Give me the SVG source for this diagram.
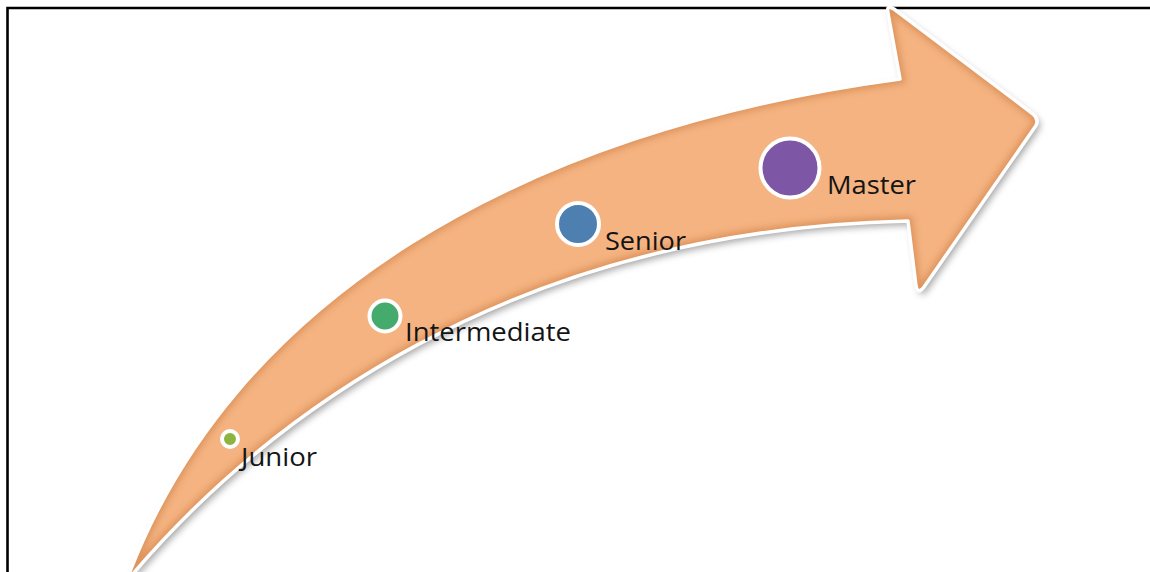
<svg xmlns="http://www.w3.org/2000/svg" width="1150" height="572" viewBox="0 0 1150 572">
  <style>
    .lbl { font-family: "Open Sans", "Liberation Sans", sans-serif; font-size: 25px; fill: #141414; }
    .ring { stroke: #ffffff; stroke-width: 4; }
    .frame { stroke: #000000; stroke-width: 2.6; fill: none; }
  </style>
  <defs>
    <path id="arrowShape" d="M126,582 C230,300 520,130 900,79 L888,13 Q886,4 894,9 L1033,114 Q1040,120 1035,127 L924,287 Q918,295 916,286 L908,221 C510,230 262,420 126,582 Z"/>
    <clipPath id="arrowClip"><use href="#arrowShape"/></clipPath>
    <filter id="shadow" x="-10%" y="-10%" width="120%" height="120%">
      <feDropShadow dx="3" dy="4" stdDeviation="3.5" flood-color="#000" flood-opacity="0.35"/>
    </filter>
    <filter id="soft" x="-10%" y="-10%" width="120%" height="120%">
      <feGaussianBlur stdDeviation="3"/>
    </filter>
  </defs>

  <rect width="1150" height="572" fill="#ffffff"/>
  <path class="frame" d="M7.5,572 L7.5,8 L1150,8"/>

  <g id="arrow">
    <use href="#arrowShape" fill="#F4B381" filter="url(#shadow)"/>
    <g clip-path="url(#arrowClip)">
      <use href="#arrowShape" fill="none" stroke="#D98D55" stroke-width="10" filter="url(#soft)" opacity="0.8"/>
    </g>
    <use href="#arrowShape" fill="none" stroke="#ffffff" stroke-width="3.5" stroke-linejoin="round"/>
  </g>

  <g id="junior">
    <circle class="ring" cx="230" cy="439" r="8" fill="#8DB440"/>
    <text class="lbl" x="241" y="466" textLength="76" lengthAdjust="spacingAndGlyphs">Junior</text>
  </g>

  <g id="intermediate">
    <circle class="ring" cx="385" cy="316" r="15.5" fill="#44AB6C"/>
    <text class="lbl" x="405" y="341" textLength="166" lengthAdjust="spacingAndGlyphs">Intermediate</text>
  </g>

  <g id="senior">
    <circle class="ring" cx="578" cy="224" r="21" fill="#4D80B0"/>
    <text class="lbl" x="605" y="250" textLength="81" lengthAdjust="spacingAndGlyphs">Senior</text>
  </g>

  <g id="master">
    <circle class="ring" cx="790" cy="168" r="29.5" fill="#7E56A6"/>
    <text class="lbl" x="827" y="194" textLength="89" lengthAdjust="spacingAndGlyphs">Master</text>
  </g>
</svg>
